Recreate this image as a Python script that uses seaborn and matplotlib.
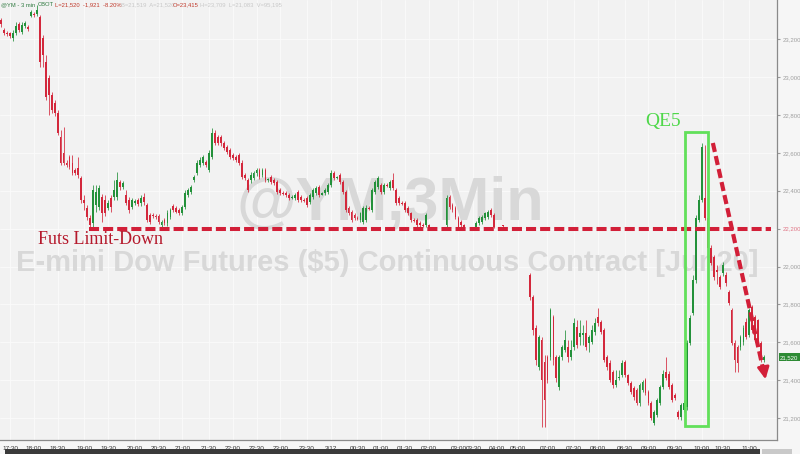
import numpy as np
import pandas as pd
import seaborn as sns
import matplotlib.pyplot as plt
import matplotlib.transforms as mtransforms
from matplotlib.patches import Rectangle

N = np.nan  # no trade printed in that bar (limit-down halt)

# 3-minute bars, @YM continuous contract
open_ = [
    23300, 23250, 23235, 23235, 23205, 23235, 23280, 23240, 23270, 23265,
    23320, 23335, 23335, 23315, 23205, 23080, 22995, 22905, 22865, 22810,
    22685, 22600, 22545, 22580, 22545, 22510, 22520, 22465, 22350, 22310,
    22255, 22230, 22325, 22315, 22365, 22350, 22310, 22360, 22365, 22365,
    22445, 22420, 22375, 22350, 22315, 22335, 22350, 22335, 22365, 22325,
    22270, 22270, 22265, 22265, 22220, 22245, 22230, 22260, 22320, 22310,
    22300, 22280, 22315, 22380, 22395, 22455, 22495, 22535, 22545, 22550,
    22510, 22580, 22705, 22685, 22685, 22650, 22630, 22615, 22590, 22580,
    22590, 22545, 22485, 22455, 22455, 22465, 22495, 22510,
    22485, 22510, 22455, 22470, 22455, 22445, 22405, 22390, 22390, 22380,
    22360, 22360, 22395, 22365, 22350, 22360, 22340, 22365, 22390, 22420,
    22380, 22390, 22395, 22430, 22495, 22465, 22485, 22445, 22395, 22310,
    22290, 22270, 22255, 22245, 22235, 22245, 22310, 22300, 22395, 22420,
    22430, 22395, 22430, 22415, 22455, 22405, 22360, 22335, 22335, 22310,
    22280, 22245, 22245, 22230, 22220, 22220, 22220, N, N, N,
    N, N, 22220, 22365, 22325, 22310, 22255, 22235, 22220, N,
    N, N, 22210, 22230, 22235, 22255, 22260, 22300, 22270, N,
    N, 22220,
    N, N, N, N, N, N, N, N,
    21955, 21840, 21675, 21470, 21610, 21495, 21520, 21520, 21735, 21520,
    21365, 21520, 21560, 21575, 21520, 21575, 21680, 21630, 21640, 21650,
    21595, 21600, 21655, 21735, 21705, 21665, 21520, 21490, 21445, 21375,
    21410, 21425, 21495, 21425, 21385, 21360, 21350, 21280, 21350, 21400,
    21335, 21280, 21175, 21215, 21280, 21365, 21445, 21435, 21375, 21320,
    21230, 21205, 21240, 21260, 21595, 21755, 21930, 22245, 22350, 22360,
    22255, 22100, 22050, 21980, 21945, 21965, 21955, 21865, 21770, 21595,
    21575, 21575, 21600, 21705, 21640, 21785, 21735, 21715, 21595, 21505,
]
high = [
    23310, 23260, 23245, 23240, 23250, 23290, 23290, 23290, 23295, 23275,
    23355, 23345, 23380, 23330, 23220, 23115, 23010, 22920, 22880, 22825,
    22720, 22735, 22560, 22590, 22590, 22520, 22580, 22480, 22375, 22325,
    22270, 22430, 22430, 22430, 22385, 22375, 22350, 22375, 22455, 22500,
    22455, 22450, 22405, 22365, 22360, 22355, 22360, 22375, 22390, 22335,
    22280, 22280, 22275, 22275, 22245, 22255, 22300, 22310, 22330, 22320,
    22310, 22325, 22405, 22415, 22430, 22485, 22560, 22580, 22590, 22560,
    22615, 22730, 22720, 22695, 22695, 22660, 22640, 22625, 22600, 22590,
    22600, 22560, 22495, 22465, 22500, 22505, 22520, 22520,
    22520, 22520, 22465, 22485, 22465, 22455, 22415, 22400, 22400, 22390,
    22375, 22390, 22405, 22375, 22360, 22370, 22390, 22415, 22425, 22430,
    22395, 22415, 22440, 22510, 22505, 22480, 22495, 22455, 22405, 22320,
    22300, 22280, 22265, 22290, 22320, 22325, 22320, 22415, 22455, 22480,
    22440, 22440, 22440, 22455, 22495, 22415, 22370, 22345, 22345, 22320,
    22290, 22255, 22255, 22240, 22230, 22280, 22225, N, N, N,
    N, N, 22375, 22375, 22335, 22320, 22265, 22245, 22225, N,
    N, N, 22240, 22265, 22270, 22290, 22300, 22310, 22280, N,
    N, 22220,
    N, N, N, N, N, N, N, N,
    21965, 21850, 21690, 21640, 21630, 21535, 21535, 21780, 21745, 21535,
    21535, 21585, 21665, 21610, 21610, 21730, 21715, 21715, 21690, 21715,
    21640, 21690, 21730, 21780, 21715, 21675, 21535, 21505, 21455, 21455,
    21455, 21505, 21505, 21435, 21395, 21370, 21360, 21385, 21400, 21410,
    21350, 21290, 21240, 21305, 21375, 21455, 21520, 21450, 21385, 21330,
    21240, 21280, 21295, 21610, 21745, 21955, 22270, 22375, 22650, 22640,
    22270, 22115, 22060, 22010, 21955, 22025, 21970, 21875, 21780, 21610,
    21585, 21640, 21690, 21730, 21780, 21795, 21745, 21725, 21605, 21535,
]
low = [
    23265, 23220, 23215, 23205, 23190, 23220, 23240, 23225, 23260, 23245,
    23315, 23315, 23320, 23055, 23055, 22880, 22800, 22810, 22795, 22695,
    22535, 22535, 22525, 22515, 22485, 22485, 22465, 22335, 22300, 22245,
    22205, 22210, 22290, 22300, 22235, 22265, 22300, 22290, 22350, 22350,
    22405, 22410, 22325, 22280, 22305, 22325, 22320, 22320, 22325, 22235,
    22225, 22255, 22250, 22225, 22210, 22220, 22215, 22250, 22290, 22280,
    22270, 22270, 22305, 22365, 22385, 22445, 22485, 22525, 22535, 22525,
    22500, 22570, 22640, 22640, 22635, 22615, 22595, 22570, 22560, 22550,
    22535, 22460, 22455, 22395, 22440, 22455, 22480, 22460,
    22470, 22445, 22445, 22435, 22430, 22385, 22380, 22380, 22365, 22350,
    22355, 22350, 22340, 22340, 22340, 22315, 22330, 22355, 22380, 22365,
    22375, 22380, 22385, 22420, 22455, 22460, 22435, 22385, 22290, 22270,
    22235, 22245, 22245, 22235, 22225, 22235, 22300, 22290, 22385, 22410,
    22385, 22385, 22420, 22405, 22405, 22325, 22325, 22325, 22290, 22270,
    22235, 22235, 22210, 22210, 22210, 22210, 22205, N, N, N,
    N, N, 22210, 22305, 22290, 22250, 22205, 22210, 22205, N,
    N, N, 22205, 22220, 22225, 22245, 22250, 22260, 22205, N,
    N, 22210,
    N, N, N, N, N, N, N, N,
    21825, 21640, 21480, 21455, 21155, 21155, 21385, 21505, 21480, 21390,
    21350, 21505, 21550, 21495, 21505, 21560, 21570, 21585, 21585, 21560,
    21550, 21590, 21640, 21685, 21645, 21495, 21455, 21390, 21360, 21365,
    21400, 21415, 21415, 21375, 21325, 21295, 21270, 21265, 21340, 21320,
    21270, 21190, 21165, 21205, 21270, 21355, 21400, 21355, 21285, 21295,
    21195, 21190, 21230, 21240, 21585, 21745, 21915, 22235, 22340, 22245,
    22075, 22010, 21930, 21910, 21880, 21950, 21895, 21795, 21585, 21445,
    21445, 21560, 21585, 21615, 21630, 21650, 21600, 21585, 21495, 21495,
]
close = [
    23280, 23235, 23230, 23215, 23235, 23270, 23250, 23275, 23285, 23255,
    23345, 23330, 23355, 23080, 23115, 22895, 22905, 22825, 22810, 22705,
    22545, 22545, 22535, 22525, 22495, 22495, 22485, 22350, 22335, 22260,
    22220, 22405, 22395, 22415, 22280, 22280, 22335, 22315, 22405, 22455,
    22420, 22440, 22335, 22300, 22350, 22345, 22330, 22360, 22340, 22245,
    22235, 22265, 22260, 22235, 22235, 22230, 22280, 22300, 22300, 22290,
    22280, 22315, 22390, 22405, 22420, 22470, 22545, 22560, 22580, 22535,
    22600, 22705, 22650, 22650, 22650, 22625, 22605, 22580, 22575, 22560,
    22545, 22470, 22465, 22405, 22485, 22495, 22510, 22470,
    22510, 22455, 22460, 22445, 22440, 22395, 22390, 22385, 22380, 22360,
    22365, 22380, 22350, 22350, 22345, 22325, 22380, 22405, 22415, 22380,
    22390, 22405, 22430, 22495, 22465, 22475, 22445, 22395, 22300, 22280,
    22245, 22255, 22250, 22280, 22310, 22310, 22305, 22405, 22445, 22465,
    22395, 22430, 22425, 22445, 22415, 22335, 22335, 22330, 22300, 22280,
    22245, 22240, 22220, 22220, 22215, 22270, 22210, N, N, N,
    N, N, 22360, 22315, 22300, 22260, 22210, 22220, 22210, N,
    N, N, 22230, 22255, 22260, 22280, 22290, 22270, 22210, N,
    N, 22215,
    N, N, N, N, N, N, N, N,
    21840, 21665, 21505, 21630, 21400, 21295, 21400, 21770, 21505, 21410,
    21520, 21575, 21610, 21520, 21560, 21700, 21585, 21650, 21650, 21575,
    21630, 21665, 21700, 21700, 21655, 21505, 21470, 21400, 21375, 21400,
    21415, 21490, 21425, 21385, 21335, 21310, 21280, 21375, 21390, 21330,
    21280, 21200, 21230, 21295, 21365, 21435, 21410, 21365, 21295, 21305,
    21205, 21270, 21280, 21595, 21730, 21930, 22255, 22350, 22630, 22255,
    22100, 22020, 21945, 21970, 21890, 22010, 21915, 21805, 21595, 21505,
    21490, 21630, 21675, 21630, 21770, 21665, 21610, 21595, 21505, 21520,
]

time_labels = ["17:30", "18:00", "18:30", "19:00", "19:30", "20:00", "20:30",
               "21:00", "21:30", "22:00", "22:30", "23:00", "23:30", "3/12",
               "00:30", "01:00", "01:30", "02:00", "03:00", "03:30", "04:00",
               "05:00", "07:00", "07:30", "08:00", "08:30", "09:00", "09:30",
               "10:00", "10:30", "11:00"]
time_bars = [3, 11, 19, 28, 36, 45, 53, 61, 70, 78, 86, 94, 103, 111, 120, 128,
             136, 144, 154, 159, 167, 174, 184, 193, 201, 210, 218, 227, 236,
             243, 252]
price_ticks = [21200, 21400, 21600, 21800, 22000, 22200, 22400, 22600, 22800,
               23000, 23200]
limit_down = 22200
last_price = 21520

GREEN = "#23913a"
RED = "#d3283c"
DASH_RED = "#d21f38"
BOX_GREEN = "#62e05a"

sns.set_style("white")
plt.rcParams["font.family"] = ["Liberation Sans", "DejaVu Sans"]

df = pd.DataFrame({"open": open_, "high": high, "low": low, "close": close}, dtype=float)
df["bar"] = np.arange(len(df))
df = df.dropna()
df["bottom"] = df[["open", "close"]].min(axis=1)
df["body"] = (df["close"] - df["open"]).abs().clip(lower=4)
up = df[df["close"] >= df["open"]]
down = df[df["close"] < df["open"]]

fig = plt.figure(figsize=(8, 4.54), dpi=100, facecolor="#f6f6f6")
ax = fig.add_axes([0, 14 / 454, 777 / 800, 440 / 454])
ax.set_facecolor("#f2f2f2")

# watermarks
ax.text(0.502, 0.535, "@YM,3Min", transform=ax.transAxes, ha="center", va="center",
        fontsize=44, fontweight="bold", color="#d8d8d8", zorder=1)
ax.text(0.498, 0.402, "E-mini Dow Futures ($5) Continuous Contract [Jun20]",
        transform=ax.transAxes, ha="center", va="center", fontsize=21,
        fontweight="bold", color="#d8d8d8", zorder=1)

for part, col in ((up, GREEN), (down, RED)):
    ax.vlines(part["bar"], part["low"], part["high"], color=col, lw=0.7, alpha=0.8, zorder=3)
    ax.bar(part["bar"], part["body"], bottom=part["bottom"], width=0.62,
           color=col, linewidth=0, zorder=4)

# limit-down line and label
ax.hlines(limit_down, 29.6, 259.3, colors=DASH_RED, lw=2.9,
          linestyles=(0, (2.5, 1.0)), zorder=5)
ax.text(12.5, 22140, "Futs Limit-Down", fontsize=13, family="Liberation Serif",
        color="#b5192c", ha="left", va="center", zorder=6)

# QE5 box
ax.add_patch(Rectangle((230.3, 21158), 7.7, 22710 - 21158, fill=False,
                       ec=BOX_GREEN, lw=2, zorder=6))
ax.text(222.9, 22763, "QE5", fontsize=14, family="Liberation Serif",
        color="#4fd84a", ha="center", va="center", zorder=6)

# falling arrow
ax.plot([239.7, 256.6], [22652, 21460], ls=(0, (2.2, 1.0)), lw=3,
        color=DASH_RED, zorder=6, solid_capstyle="butt")
ax.annotate("", xy=(257.6, 21390), xytext=(256.8, 21460),
            arrowprops=dict(arrowstyle="-|>,head_length=0.7,head_width=0.35",
                            color=DASH_RED, lw=2, mutation_scale=10), zorder=6)

ax.set_xlim(-0.4, 261.3)
ax.set_ylim(21084, 23407)

ax.set_xticks(time_bars)
ax.set_xticklabels(time_labels)
ax.tick_params(axis="x", labelsize=4.6, labelcolor="#333333", length=2,
               color="#888888", pad=2)
ax.yaxis.tick_right()
ax.set_yticks(price_ticks)
ax.set_yticklabels([f"{v:,}" for v in price_ticks])
ax.tick_params(axis="y", labelsize=4.3, labelcolor="#a0a0a0", length=2.5,
               color="#999999", pad=1.5)
for lab, v in zip(ax.get_yticklabels(), price_ticks):
    if v == limit_down:
        lab.set_color("#e07585")

ax.grid(True, color="#fbfbfb", lw=0.6)
ax.set_axisbelow(True)
for side in ("left", "top"):
    ax.spines[side].set_visible(False)
for side in ("right", "bottom"):
    ax.spines[side].set_color("#8a8a8a")
    ax.spines[side].set_linewidth(0.9)

# last price flag
trans = mtransforms.blended_transform_factory(ax.transAxes, ax.transData)
ax.text(1.004, last_price, f"{last_price:,}", transform=trans, fontsize=4.3,
        color="white", ha="left", va="center", clip_on=False, zorder=7,
        bbox=dict(boxstyle="square,pad=0.25", fc="#2d8a34", ec="none"))

# header line
header = [(1, "@YM - 3 min", "#2f7a40"), (38, "CBOT", "#2f7a40"),
          (55, "L=21,520  -1,921  -8.20%", "#c0392b"),
          (121, "B=21,519  A=21,520", "#c9c9c9"),
          (173, "O=23,415", "#c0392b"),
          (200, "H=23,709  L=21,083  V=95,195", "#c9c9c9")]
for px, s, col in header:
    fig.text(px / 800, 1 - 5 / 454, s, fontsize=4.2, color=col, va="center",
             ha="left")

# bottom scroll bar
fig.add_artist(Rectangle((5 / 800, 0), 755 / 800, 5 / 454, transform=fig.transFigure,
                         color="#3a3a3a", lw=0))
fig.add_artist(Rectangle((762 / 800, 0), 30 / 800, 5 / 454, transform=fig.transFigure,
                         color="#c9c9c9", lw=0))

fig.savefig("out.png", dpi=100, facecolor=fig.get_facecolor())
